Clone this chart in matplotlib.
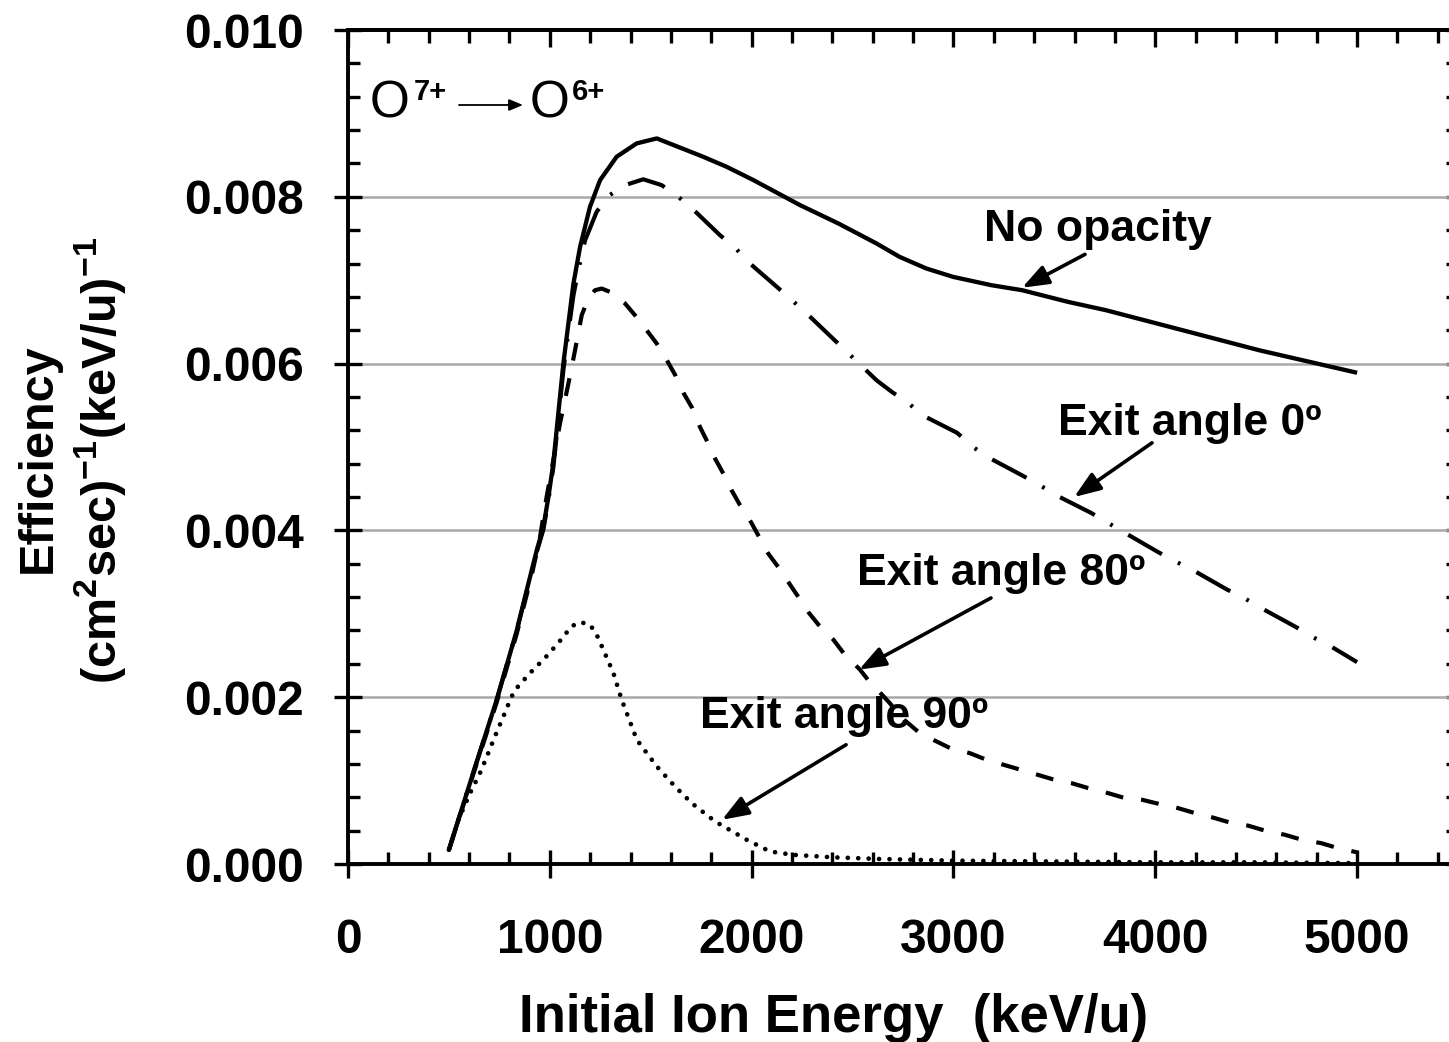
import matplotlib
matplotlib.use('Agg')
import matplotlib.pyplot as plt
from matplotlib.ticker import MultipleLocator, NullFormatter, FormatStrFormatter

# ---------------- data ----------------
energy_noop = [500, 620, 737, 836, 910, 935, 968, 993, 1017, 1042, 1067, 1092, 1117,
               1150, 1199, 1249, 1331, 1430, 1530, 1760, 1876, 2009, 2240, 2430, 2619,
               2733, 2866, 2998, 3188, 3340, 3568, 3756, 4136, 4515, 5000]
eff_noop = [0.00017, 0.00109, 0.00197, 0.00280, 0.00352, 0.00376, 0.00404, 0.00440,
            0.00480, 0.00540, 0.00600, 0.00648, 0.00696, 0.00740, 0.00788, 0.00820,
            0.00848, 0.00864, 0.00870, 0.00848, 0.00836, 0.00820, 0.00790, 0.00768,
            0.00744, 0.00728, 0.00714, 0.00704, 0.00694, 0.00688, 0.00674, 0.00664,
            0.00640, 0.00616, 0.00589]

energy_0 = [500, 620, 737, 836, 910, 935, 968, 993, 1017, 1042, 1067, 1092, 1117,
            1150, 1175, 1232, 1290, 1373, 1463, 1554, 1636, 1705, 1843, 1918, 1982,
            2125, 2200, 2273, 2619, 2695, 2775, 2847, 3018, 3097, 3169, 3340, 3429,
            3510, 3682, 3766, 3850, 4014, 4098, 4182, 4356, 4440, 4524, 4698, 4772,
            4856, 5000]
eff_0 = [0.00017, 0.00109, 0.00197, 0.00280, 0.00350, 0.00374, 0.00401, 0.00436,
         0.00475, 0.00533, 0.00592, 0.00638, 0.00682, 0.00722, 0.00748, 0.00782,
         0.00801, 0.00814, 0.00821, 0.00814, 0.00800, 0.00786, 0.00754, 0.00739,
         0.00722, 0.00692, 0.00676, 0.00660, 0.00580, 0.00566, 0.00553, 0.00538,
         0.00517, 0.00500, 0.00488, 0.00466, 0.00454, 0.00442, 0.00421, 0.00409,
         0.00397, 0.00374, 0.00363, 0.00353, 0.00329, 0.00319, 0.00307, 0.00284,
         0.00273, 0.00263, 0.00242]

energy_80 = [500, 620, 737, 836, 910, 950, 984, 1051, 1092, 1125, 1158, 1190, 1224,
             1257, 1298, 1373, 1422, 1480, 1530, 1580, 1622, 1662, 1705, 1744, 1777,
             1819, 1860, 1901, 1943, 1992, 2033, 2083, 2132, 2182, 2232, 2281, 2331,
             2405, 2455, 2537, 2576, 2646, 2684, 2755, 2828, 2899, 2983, 3080, 3164,
             3248, 3333, 3417, 3500, 3584, 3668, 3752, 3850, 3935, 4019, 4113, 4197,
             4281, 4366, 4460, 4544, 4643, 4727, 4822, 4906, 5000]
eff_80 = [0.00017, 0.00107, 0.00194, 0.00276, 0.00346, 0.00390, 0.00440, 0.00529,
          0.00576, 0.00616, 0.00658, 0.00678, 0.00688, 0.00690, 0.00686, 0.00672,
          0.00658, 0.00640, 0.00624, 0.00604, 0.00586, 0.00565, 0.00547, 0.00524,
          0.00508, 0.00486, 0.00468, 0.00448, 0.00430, 0.00412, 0.00394, 0.00372,
          0.00356, 0.00338, 0.00320, 0.00302, 0.00287, 0.00269, 0.00253, 0.00233,
          0.00221, 0.00203, 0.00193, 0.00173, 0.00158, 0.00149, 0.00139, 0.00133,
          0.00125, 0.00119, 0.00113, 0.00107, 0.00101, 0.00097, 0.00091, 0.00086,
          0.00079, 0.00077, 0.00072, 0.00067, 0.00061, 0.00056, 0.00050, 0.00046,
          0.00040, 0.00035, 0.00029, 0.00025, 0.00019, 0.00014]

energy_90 = [500, 547, 605, 654, 695, 728, 770, 811, 836, 902, 976, 1042, 1108, 1150,
             1199, 1232, 1265, 1290, 1315, 1356, 1381, 1431, 1530, 1620, 1703, 1819,
             1976, 2091, 2206, 2405, 2636, 3000, 3500, 4000, 4500, 5000]
eff_90 = [0.00017, 0.00053, 0.00085, 0.00109, 0.00133, 0.00153, 0.00177, 0.00201,
          0.00211, 0.00229, 0.00247, 0.00265, 0.00285, 0.00290, 0.00287, 0.00275,
          0.00257, 0.00243, 0.00229, 0.00197, 0.00181, 0.00149, 0.00117, 0.00093,
          0.00073, 0.00051, 0.00029, 0.00015, 0.00011, 0.00008, 0.00006, 0.00004,
          0.00003, 0.00002, 0.00002, 0.00001]

x_ticks = [0, 1000, 2000, 3000, 4000, 5000]
y_ticks = [0.000, 0.002, 0.004, 0.006, 0.008, 0.010]

# ---------------- style ----------------
plt.rcParams['font.family'] = ['Liberation Sans', 'DejaVu Sans']
plt.rcParams['mathtext.fontset'] = 'custom'
plt.rcParams['mathtext.rm'] = 'Liberation Sans:bold'
plt.rcParams['mathtext.it'] = 'Liberation Sans:bold'
plt.rcParams['mathtext.bf'] = 'Liberation Sans:bold'
plt.rcParams['mathtext.default'] = 'rm'
plt.rcParams['lines.scale_dashes'] = False

W, H, DPI = 1449, 1042, 100
fig = plt.figure(figsize=(W / DPI, H / DPI), dpi=DPI)


def fx(px):
    return px / W


def fy(py):
    return 1 - py / H


ax = fig.add_axes([fx(348), fy(864), fx(1458) - fx(348), fy(30) - fy(864)])
ax.set_xlim(0, 5500)
ax.set_ylim(0, 0.010)

for s in ['left', 'bottom', 'top', 'right']:
    ax.spines[s].set_linewidth(2.8)

ax.set_xticks(x_ticks)
ax.set_yticks(y_ticks)
ax.xaxis.set_minor_locator(MultipleLocator(200))
ax.yaxis.set_minor_locator(MultipleLocator(0.0004))
ax.yaxis.set_major_formatter(FormatStrFormatter('%.3f'))
ax.tick_params(which='major', direction='inout', length=20, width=2.4,
               labelsize=34.5)
ax.tick_params(which='minor', direction='in', length=8.5, width=2.4)
ax.tick_params(axis='x', which='major', pad=29)
ax.tick_params(axis='y', which='major', pad=22)
for lab in ax.get_xticklabels() + ax.get_yticklabels():
    lab.set_fontweight('bold')

sec_x = ax.secondary_xaxis('top')
sec_x.set_xticks(x_ticks)
sec_x.xaxis.set_minor_locator(MultipleLocator(200))
sec_x.xaxis.set_major_formatter(NullFormatter())
sec_x.tick_params(which='major', direction='in', length=12, width=2.4)
sec_x.tick_params(which='minor', direction='in', length=9, width=2.4)
sec_x.spines['top'].set_linewidth(2.8)

sec_y = ax.secondary_yaxis('right')
sec_y.set_yticks(y_ticks)
sec_y.yaxis.set_minor_locator(MultipleLocator(0.0004))
sec_y.yaxis.set_major_formatter(NullFormatter())
sec_y.tick_params(which='both', direction='in', length=9, width=2.4)

ax.yaxis.grid(True, which='major', color='#a8a8a8', lw=1.8)
ax.set_axisbelow(True)

# ---------------- curves ----------------
ax.plot(energy_noop, eff_noop, color='black', lw=3.1, solid_capstyle='butt',
        solid_joinstyle='round', zorder=5)
ax.plot(energy_0, eff_0, color='black', lw=3.0, linestyle=(0, (28, 13, 2, 13)), zorder=4)
ax.plot(energy_80, eff_80, color='black', lw=3.0, linestyle=(0, (13, 13)), zorder=4)
ax.plot(energy_90, eff_90, color='black', lw=3.4, linestyle=(0, (0.01, 7.5)),
        dash_capstyle='round', zorder=4)

# ---------------- annotations ----------------
arrow_kw = dict(arrowstyle='-|>,head_length=0.8,head_width=0.3', lw=2.6,
                color='black', shrinkA=0, shrinkB=0, mutation_scale=20)
ann_font = dict(fontsize=32, fontweight='bold', ha='left', va='baseline')

fig.text(fx(984), fy(241), 'No opacity', **ann_font)
ax.annotate('', xy=(3340, 0.00691), xytext=(3652, 0.00731), arrowprops=arrow_kw)

fig.text(fx(1058), fy(435), 'Exit angle 0º', **ann_font)
ax.annotate('', xy=(3598, 0.00440), xytext=(3984, 0.00505), arrowprops=arrow_kw)

fig.text(fx(857), fy(585), 'Exit angle 80º', **ann_font)
ax.annotate('', xy=(2532, 0.00233), xytext=(3186, 0.00319), arrowprops=arrow_kw)

fig.text(fx(700), fy(728), 'Exit angle 90º', zorder=6, **ann_font)
ax.annotate('', xy=(1853, 0.00053), xytext=(2468, 0.00143), arrowprops=arrow_kw)

# reaction label O7+ -> O6+
fig.text(fx(370), fy(117), 'O', fontsize=37, ha='left', va='baseline')
fig.text(fx(414), fy(100), '7+', fontsize=21, fontweight='bold', ha='left', va='baseline')
ax.annotate('', xy=(fx(523), fy(105)), xytext=(fx(459), fy(105)),
            xycoords='figure fraction', textcoords='figure fraction',
            annotation_clip=False,
            arrowprops=dict(arrowstyle='-|>,head_length=0.6,head_width=0.25', lw=1.3,
                            color='black', shrinkA=0, shrinkB=0, mutation_scale=14))
fig.text(fx(530), fy(117), 'O', fontsize=37, ha='left', va='baseline')
fig.text(fx(572), fy(100), '6+', fontsize=21, fontweight='bold', ha='left', va='baseline')

# ---------------- axis labels ----------------
fig.text(fx(834), fy(1032), 'Initial Ion Energy  (keV/u)', fontsize=38,
         fontweight='bold', ha='center', va='baseline')
fig.text(fx(38), fy(458), 'Efficiency', fontsize=35, fontweight='bold',
         rotation=90, ha='center', va='center')
fig.text(fx(100), fy(460), r'(cm$^{2}$sec)$^{-1}$(keV/u)$^{-1}$', fontsize=35,
         fontweight='bold', rotation=90, ha='center', va='center')

fig.savefig('out.png', dpi=DPI)
